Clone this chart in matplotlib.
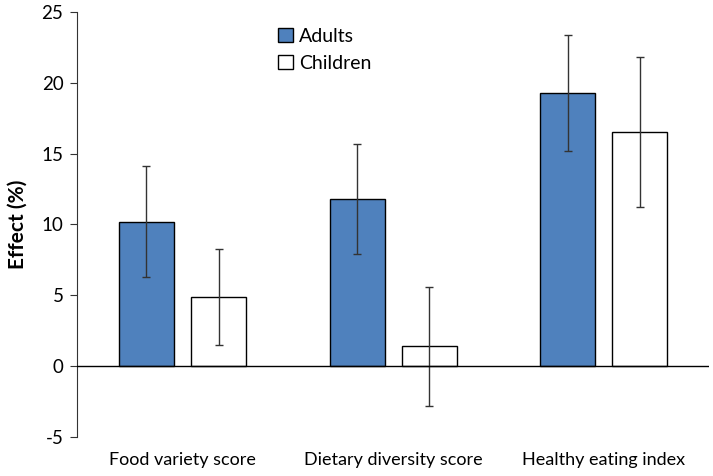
import matplotlib
matplotlib.use("Agg")
import matplotlib.pyplot as plt
import numpy as np

categories = ["Food variety score", "Dietary diversity score", "Healthy eating index"]
series_names = ["Adults", "Children"]
adults = [10.2, 11.8, 19.3]
adults_low = [6.3, 7.9, 15.2]
adults_high = [14.1, 15.7, 23.4]
children = [4.9, 1.4, 16.5]
children_low = [1.5, -2.8, 11.2]
children_high = [8.3, 5.6, 21.8]
y_ticks = [-5, 0, 5, 10, 15, 20, 25]

plt.rcParams['font.family'] = ['Lato', 'DejaVu Sans']
plt.rcParams['axes.unicode_minus'] = False

fig = plt.figure(figsize=(7.13, 4.76), dpi=100)
ax = fig.add_axes([0.1084, 0.082, 0.886, 0.893])

x = np.arange(len(categories))
w = 0.261
off = 0.1715

def err(vals, lo, hi):
    v = np.array(vals); return [v - np.array(lo), np.array(hi) - v]

ax.bar(x - off, adults, w, color="#4F81BD", edgecolor="black", linewidth=1.0,
       label=series_names[0], zorder=2)
ax.bar(x + off, children, w, color="white", edgecolor="black", linewidth=1.0,
       label=series_names[1], zorder=2)
ax.errorbar(x - off, adults, yerr=err(adults, adults_low, adults_high), fmt="none",
            ecolor="#333333", elinewidth=1.0, capsize=3, capthick=1.0, zorder=3)
ax.errorbar(x + off, children, yerr=err(children, children_low, children_high), fmt="none",
            ecolor="#333333", elinewidth=1.0, capsize=3, capthick=1.0, zorder=3)

ax.axhline(0, color="black", linewidth=1.0, zorder=4)
ax.set_xlim(-0.5, 2.5)
ax.set_ylim(-5, 25)
ax.set_yticks(y_ticks)
ax.set_xticks(x)
ax.set_xticklabels(categories, fontsize=13)
ax.tick_params(axis="x", length=0, pad=11)
ax.tick_params(axis="y", labelsize=13.5, length=5, direction="out", color="#333333", pad=5)
for s in ["top", "right", "bottom"]:
    ax.spines[s].set_visible(False)
ax.spines["left"].set_color("#333333")
ax.set_ylabel("Effect (%)", fontsize=15, fontweight="bold", labelpad=10)

ax.legend(loc="upper left", bbox_to_anchor=(0.29, 1.003), frameon=False, fontsize=14,
          handlelength=0.75, handleheight=0.75, handletextpad=0.35, labelspacing=0.5)

fig.savefig("out.png", dpi=100)
